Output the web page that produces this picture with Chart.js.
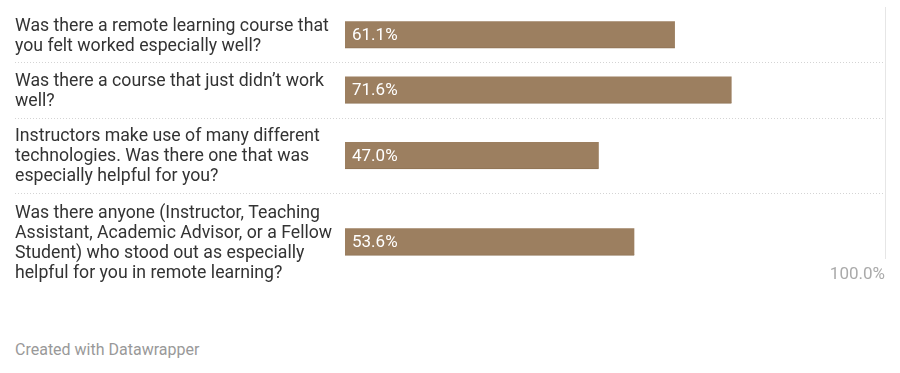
<!DOCTYPE html>
<html>
<head>
<meta charset="utf-8">
<script src="https://cdn.jsdelivr.net/npm/chart.js@4"></script>
<style>
  body { margin: 0; background: #fff; font-family: Roboto, sans-serif; }
  #wrap { position: relative; width: 900px; height: 291px; }
  #footer { position: absolute; left: 15px; top: 340px; font-size: 16px; color: #999; }
</style>
</head>
<body>
<div id="wrap"><canvas id="chart"></canvas></div>
<div id="footer">Created with Datawrapper</div>
<script>
const questions = [
    ['Was there a remote learning course that', 'you felt worked especially well?'],
    ['Was there a course that just didn\u2019t work', 'well?'],
    ['Instructors make use of many different', 'technologies. Was there one that was', 'especially helpful for you?'],
    ['Was there anyone (Instructor, Teaching', 'Assistant, Academic Advisor, or a Fellow', 'Student) who stood out as especially', 'helpful for you in remote learning?']
];
const shares = [61.1, 71.6, 47.0, 53.6];
const xTicks = [100];

// row layout: each row grows with its number of label lines
const rowHeights = questions.map(q => q.length * 21 + 14);
const rowTops = [];
let acc = 0;
rowHeights.forEach(h => { rowTops.push(acc); acc += h; });
const rowCenters = rowTops.map((t, i) => t + rowHeights[i] / 2);

const rowRules = {
    id: 'rowRules',
    beforeDatasetsDraw(chart) {
        const { ctx, scales: { y } } = chart;
        ctx.save();
        ctx.strokeStyle = '#d4d4d4';
        ctx.lineWidth = 1;
        ctx.setLineDash([1, 2]);
        rowTops.slice(1).forEach(t => {
            const py = Math.round(y.getPixelForValue(t)) + 0.5;
            ctx.beginPath();
            ctx.moveTo(15, py);
            ctx.lineTo(885, py);
            ctx.stroke();
        });
        ctx.restore();
    }
};

// question text on the left, drawn per row
const rowLabels = {
    id: 'rowLabels',
    afterDraw(chart) {
        const { ctx, scales: { y } } = chart;
        const lh = 20;
        ctx.save();
        ctx.fillStyle = '#333';
        ctx.font = '17.7px Roboto';
        ctx.textAlign = 'left';
        ctx.textBaseline = 'alphabetic';
        questions.forEach((lines, i) => {
            const cy = y.getPixelForValue(rowCenters[i]);
            lines.forEach((s, j) => {
                ctx.fillText(s, 15, cy + (j - (lines.length - 1) / 2) * lh + 6);
            });
        });
        ctx.restore();
    }
};

const barLabels = {
    id: 'barLabels',
    afterDatasetsDraw(chart) {
        const { ctx } = chart;
        const meta = chart.getDatasetMeta(0);
        ctx.save();
        ctx.fillStyle = '#fff';
        ctx.font = '17px Roboto';
        ctx.textBaseline = 'middle';
        meta.data.forEach((bar, i) => {
            ctx.fillText(shares[i].toFixed(1) + '%', bar.base + 7, bar.y + 1);
        });
        ctx.restore();
    }
};

new Chart(document.getElementById('chart'), {
    type: 'bar',
    data: {
        datasets: [{
            data: shares.map((v, i) => ({ x: v, y: rowCenters[i] })),
            backgroundColor: '#9c7f60',
            borderColor: '#8f7355',
            borderWidth: { bottom: 1 },
            barThickness: 27
        }]
    },
    options: {
        indexAxis: 'y',
        responsive: true,
        maintainAspectRatio: false,
        animation: false,
        layout: { padding: { left: 345, right: 15, top: 7, bottom: 0 } },
        plugins: {
            legend: { display: false },
            tooltip: { enabled: false }
        },
        scales: {
            y: {
                type: 'linear',
                display: false,
                offset: false,
                reverse: true,
                min: 0,
                max: 255
            },
            x: {
                min: 0,
                max: 100,
                afterBuildTicks: (scale) => {
                    scale.ticks = xTicks.map(v => ({ value: v }));
                },
                grid: { color: '#e6e6e6', drawTicks: false },
                border: { display: false },
                ticks: {
                    align: 'end',
                    padding: 6,
                    color: '#aaa',
                    font: { family: 'Roboto', size: 17 },
                    callback: (v) => v.toFixed(1) + '%'
                }
            }
        }
    },
    plugins: [rowRules, rowLabels, barLabels]
});
</script>
</body>
</html>
